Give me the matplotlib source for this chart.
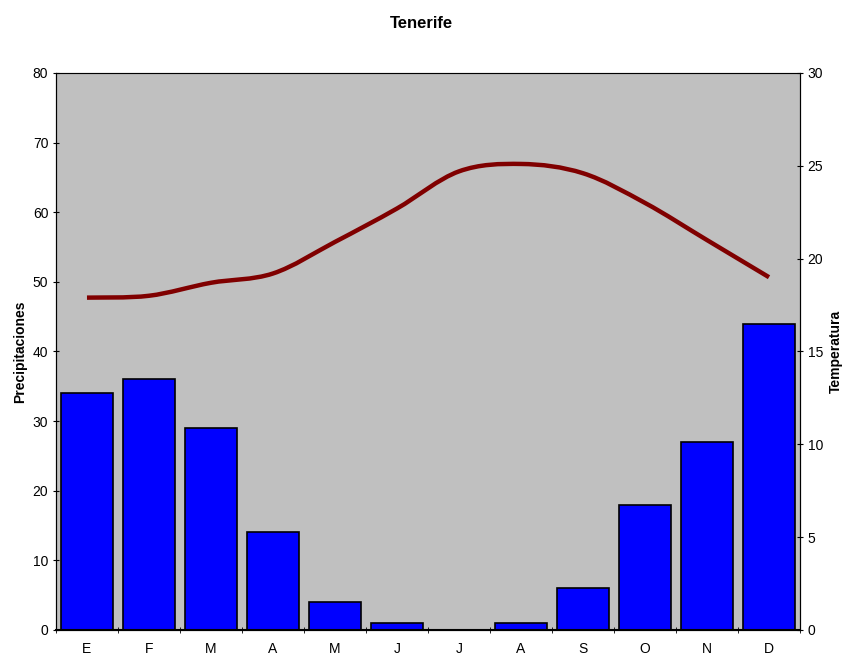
import numpy as np
import matplotlib
matplotlib.use("Agg")
import matplotlib.pyplot as plt
from matplotlib.path import Path
from matplotlib.patches import PathPatch

plt.rcParams['font.family'] = ['Liberation Sans Narrow', 'Liberation Sans', 'DejaVu Sans']

# Datos climograma Tenerife
meses = ['E', 'F', 'M', 'A', 'M', 'J', 'J', 'A', 'S', 'O', 'N', 'D']
precipitaciones = [34, 36, 29, 14, 4, 1, 0, 1, 6, 18, 27, 44]
temperatura = [17.9, 18.0, 18.7, 19.2, 20.9, 22.7, 24.7, 25.1, 24.6, 23.0, 21.0, 19.0]

fig = plt.figure(figsize=(8.43, 6.58), dpi=100)
ax = fig.add_axes([0.0664, 0.0426, 0.8826, 0.8465])
ax.set_facecolor('#c0c0c0')

x = np.arange(len(meses))
ax.bar(x, precipitaciones, width=0.84, color='#0000ff', edgecolor='black', linewidth=1.2, zorder=2)
ax.set_xlim(-0.5, len(meses) - 0.5)
ax.set_ylim(0, 80)
ax.set_yticks(range(0, 81, 10))
ax.set_xticks(x)
ax.set_xticklabels(meses)
ax.set_xticks(np.arange(-0.5, len(meses)), minor=True)
ax.tick_params(axis='x', which='major', length=0, pad=9, labelsize=10)
ax.tick_params(axis='x', which='minor', length=5, direction='inout')
ax.tick_params(axis='y', length=4, direction='inout', labelsize=10)
ax.set_ylabel('Precipitaciones', fontweight='bold', fontsize=10)
ax.spines['top'].set_color('#808080')
ax.spines['bottom'].set_linewidth(1.5)

ax2 = ax.twinx()
ax2.set_ylim(0, 30)
ax2.set_yticks(range(0, 31, 5))
ax2.tick_params(axis='y', length=4, direction='inout', labelsize=10)
ax2.set_ylabel('Temperatura', fontweight='bold', fontsize=10)

# linea suavizada (bezier tipo Excel)
pts = np.column_stack([x, temperatura])
verts = [tuple(pts[0])]
codes = [Path.MOVETO]
for i in range(len(pts) - 1):
    p0 = pts[i - 1] if i > 0 else pts[i]
    p1 = pts[i]
    p2 = pts[i + 1]
    p3 = pts[i + 2] if i + 2 < len(pts) else pts[i + 1]
    c1 = p1 + (p2 - p0) / 6.0
    c2 = p2 - (p3 - p1) / 6.0
    verts += [tuple(c1), tuple(c2), tuple(p2)]
    codes += [Path.CURVE4, Path.CURVE4, Path.CURVE4]
ax2.add_patch(PathPatch(Path(verts, codes), facecolor='none', edgecolor='#800000', linewidth=3.2, zorder=3))

fig.suptitle('Tenerife', fontweight='bold', fontsize=12, y=0.975)
fig.savefig('out.png', dpi=100)
